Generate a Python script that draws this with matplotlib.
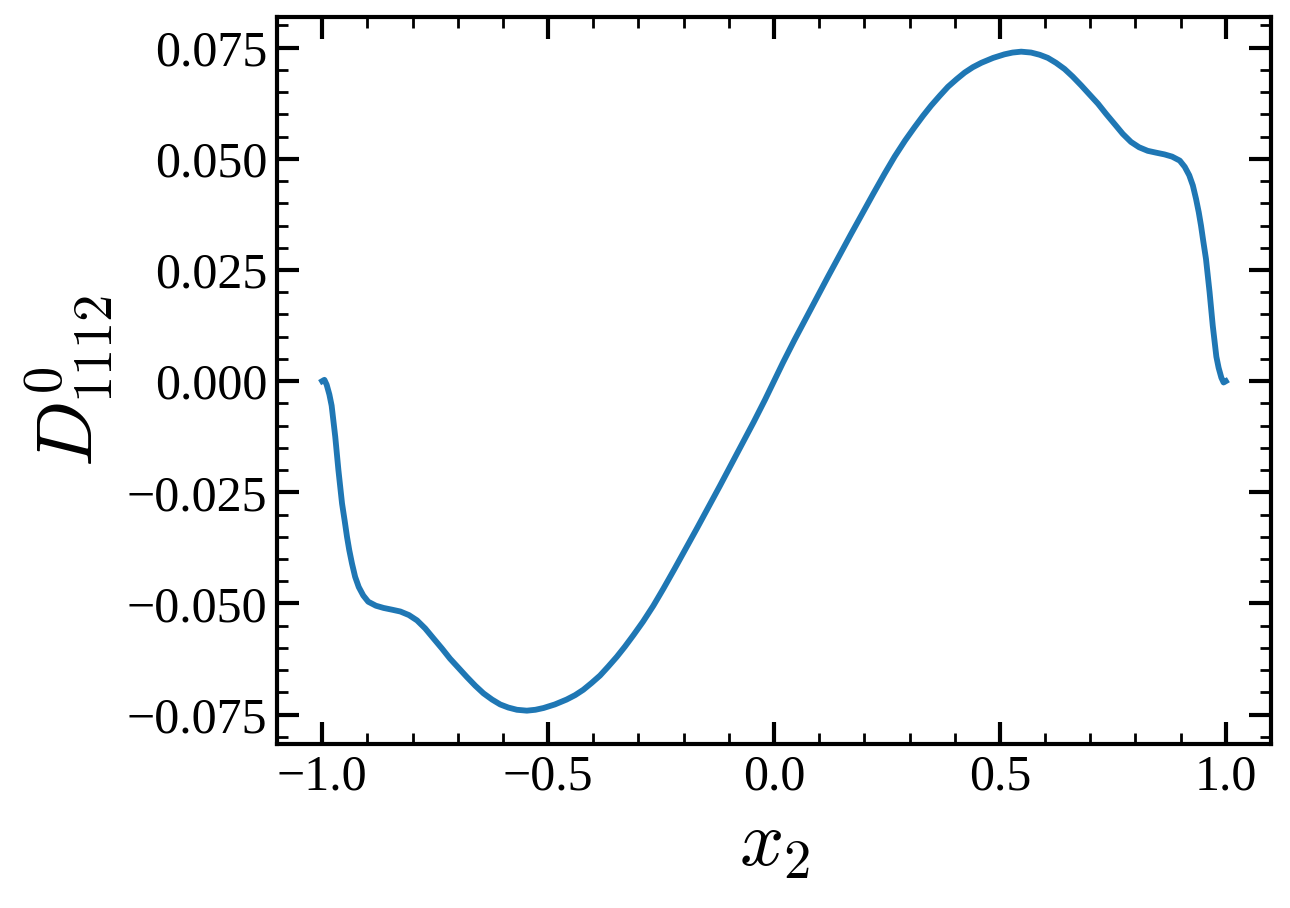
import matplotlib
matplotlib.use('Agg')
import matplotlib.pyplot as plt
from matplotlib.ticker import MultipleLocator

# ── Data ──────────────────────────────────────────────────────────────
x2 = [-1.000, -0.995, -0.990, -0.984, -0.979, -0.975, -0.971, -0.964,
      -0.956, -0.950, -0.945, -0.940, -0.934, -0.927, -0.919, -0.909,
      -0.898, -0.881, -0.864, -0.845, -0.827, -0.808, -0.790, -0.772,
      -0.754, -0.735, -0.717, -0.698, -0.680, -0.661, -0.643, -0.624,
      -0.606, -0.588, -0.569, -0.547, -0.528, -0.510, -0.485, -0.459,
      -0.440, -0.422, -0.404, -0.385, -0.367, -0.348, -0.330, -0.311,
      -0.290, -0.267, -0.245, -0.220, -0.195, -0.170, -0.145, -0.120,
      -0.095, -0.070, -0.045, -0.020, 0.000,
      0.020, 0.045, 0.070, 0.095, 0.120, 0.145, 0.170, 0.195,
      0.220, 0.245, 0.267, 0.290, 0.311, 0.330, 0.348, 0.367,
      0.385, 0.404, 0.422, 0.440, 0.459, 0.485, 0.510, 0.528,
      0.547, 0.569, 0.588, 0.606, 0.624, 0.643, 0.661, 0.680,
      0.698, 0.717, 0.735, 0.754, 0.772, 0.790, 0.808, 0.827,
      0.845, 0.864, 0.881, 0.898, 0.909, 0.919, 0.927, 0.934,
      0.940, 0.945, 0.950, 0.956, 0.964, 0.971, 0.975, 0.979,
      0.984, 0.990, 0.995, 1.000]

d1112 = [0.0000, 0.0003, -0.0008, -0.0030, -0.0055, -0.0090, -0.0125, -0.0200,
         -0.0275, -0.0315, -0.0350, -0.0380, -0.0410, -0.0440, -0.0463, -0.0482,
         -0.0496, -0.0505, -0.0510, -0.0514, -0.0518, -0.0526, -0.0538, -0.0556,
         -0.0578, -0.0601, -0.0624, -0.0645, -0.0665, -0.0685, -0.0702, -0.0716,
         -0.0727, -0.0734, -0.0739, -0.0741, -0.0739, -0.0735, -0.0727, -0.0716,
         -0.0706, -0.0694, -0.0679, -0.0662, -0.0642, -0.0620, -0.0597, -0.0571,
         -0.0541, -0.0505, -0.0467, -0.0422, -0.0376, -0.0330, -0.0283, -0.0236,
         -0.0188, -0.0140, -0.0092, -0.0042, 0.0000,
         0.0042, 0.0092, 0.0140, 0.0188, 0.0236, 0.0283, 0.0330, 0.0376,
         0.0422, 0.0467, 0.0505, 0.0541, 0.0571, 0.0597, 0.0620, 0.0642,
         0.0662, 0.0679, 0.0694, 0.0706, 0.0716, 0.0727, 0.0735, 0.0739,
         0.0741, 0.0739, 0.0734, 0.0727, 0.0716, 0.0702, 0.0685, 0.0665,
         0.0645, 0.0624, 0.0601, 0.0578, 0.0556, 0.0538, 0.0526, 0.0518,
         0.0514, 0.0510, 0.0505, 0.0496, 0.0482, 0.0463, 0.0440, 0.0410,
         0.0380, 0.0350, 0.0315, 0.0275, 0.0200, 0.0125, 0.0090, 0.0055,
         0.0030, 0.0008, -0.0003, 0.0000]

# ── Style ─────────────────────────────────────────────────────────────
plt.rcParams['font.family'] = ['Liberation Serif', 'DejaVu Serif']
plt.rcParams['mathtext.fontset'] = 'cm'
plt.rcParams['axes.linewidth'] = 1.5

fig = plt.figure(figsize=(6.45, 4.54), dpi=200)
ax = fig.add_axes([0.2147, 0.1806, 0.7706, 0.8007])

ax.plot(x2, d1112, color='#1f77b4', lw=2.1, solid_joinstyle='round')

ax.set_xlim(-1.1, 1.1)
ax.set_ylim(-0.0816, 0.0819)
ax.xaxis.set_major_locator(MultipleLocator(0.5))
ax.xaxis.set_minor_locator(MultipleLocator(0.1))
ax.yaxis.set_major_locator(MultipleLocator(0.025))
ax.yaxis.set_minor_locator(MultipleLocator(0.005))
ax.tick_params(which='both', direction='in', top=True, right=True,
               labelsize=18)
ax.tick_params(which='major', length=8, width=1.5)
ax.tick_params(which='minor', length=4, width=1.0)

ax.set_xlabel(r'$x_2$', fontsize=28)
ax.set_ylabel(r'$D^{0}_{1112}$', fontsize=28)

fig.savefig('out.png', dpi=200)
